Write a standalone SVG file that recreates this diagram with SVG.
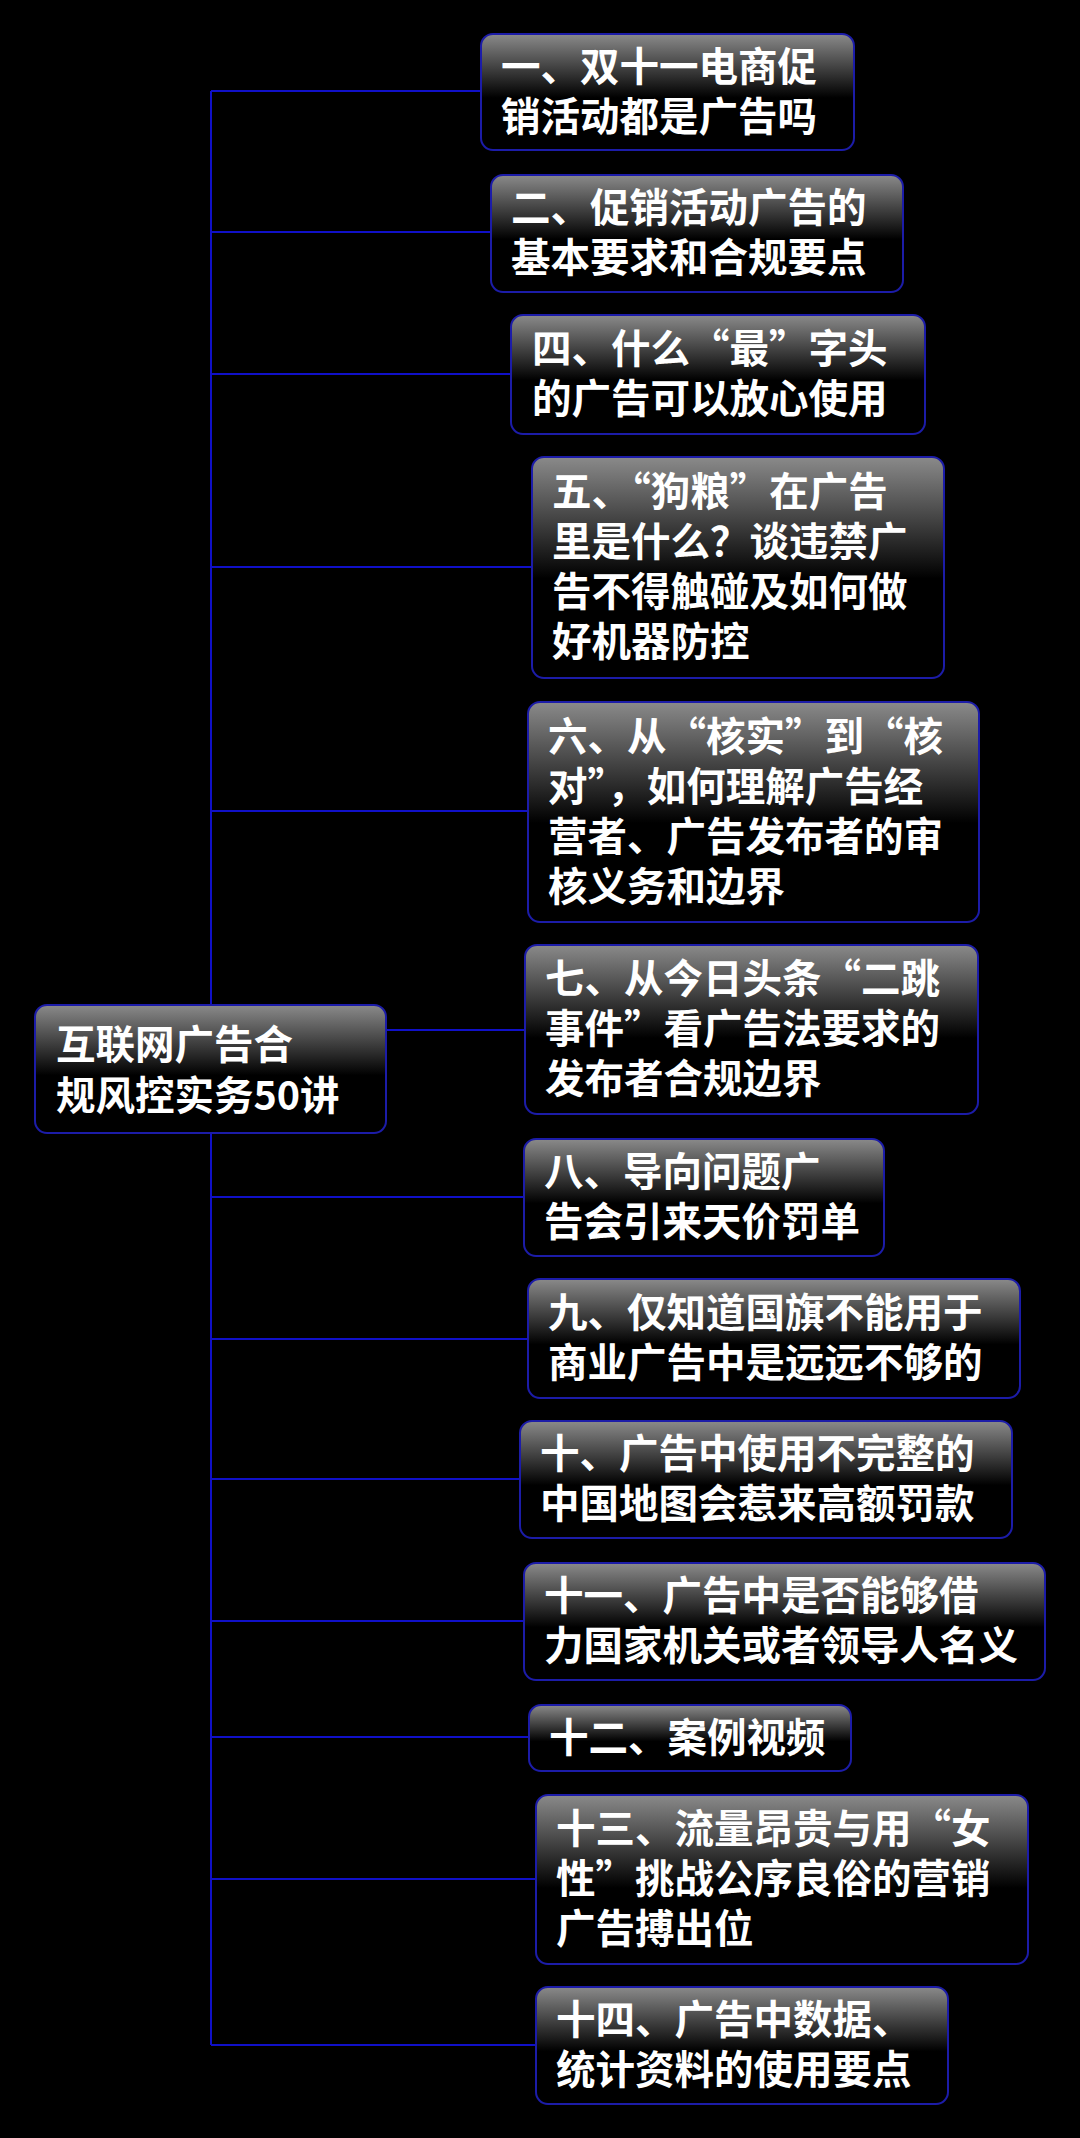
<svg xmlns="http://www.w3.org/2000/svg" width="1080" height="2138" viewBox="0 0 1080 2138">
<defs>
<linearGradient id="g" x1="0" y1="0" x2="0" y2="1">
<stop offset="0" stop-color="#8a8a8a"/>
<stop offset="0.55" stop-color="#000"/>
<stop offset="1" stop-color="#000"/>
</linearGradient>
</defs>
<style>
.b{fill:url(#g);stroke:#1c1ca8;stroke-width:2}
.t{fill:#fff;font-family:"Noto Sans CJK SC","Noto Sans",sans-serif;font-weight:bold;font-size:39.5px}
.c{stroke:#1010c8;stroke-width:2;fill:none}
</style>
<rect width="1080" height="2138" fill="#000"/>
<g id="connectors">
<line class="c" x1="211" y1="91" x2="211" y2="2045"/>
<line class="c" x1="211" y1="91" x2="481" y2="91"/>
<line class="c" x1="211" y1="232" x2="491" y2="232"/>
<line class="c" x1="211" y1="374" x2="511" y2="374"/>
<line class="c" x1="211" y1="567" x2="532" y2="567"/>
<line class="c" x1="211" y1="811" x2="528" y2="811"/>
<line class="c" x1="386" y1="1030" x2="525" y2="1030"/>
<line class="c" x1="211" y1="1197" x2="524" y2="1197"/>
<line class="c" x1="211" y1="1339" x2="528" y2="1339"/>
<line class="c" x1="211" y1="1479" x2="520" y2="1479"/>
<line class="c" x1="211" y1="1621" x2="524" y2="1621"/>
<line class="c" x1="211" y1="1737" x2="529" y2="1737"/>
<line class="c" x1="211" y1="1879" x2="536" y2="1879"/>
<line class="c" x1="211" y1="2045" x2="536" y2="2045"/>
</g>
<g id="root"><rect class="b" x="35" y="1005" width="351" height="128" rx="12"/>
<text class="t" x="56" y="1059" font-size="43">互联网广告合</text><text class="t" x="56" y="1110" font-size="43">规风控实务50讲</text></g>
<g id="n1"><rect class="b" x="481" y="34" width="373" height="116" rx="12"/>
<text class="t" x="501" y="81">一、双十一电商促</text><text class="t" x="501" y="131">销活动都是广告吗</text></g>
<g id="n2"><rect class="b" x="491" y="175" width="412" height="117" rx="12"/>
<text class="t" x="511" y="222">二、促销活动广告的</text><text class="t" x="511" y="272">基本要求和合规要点</text></g>
<g id="n3"><rect class="b" x="511" y="315" width="414" height="119" rx="12"/>
<text class="t" x="532" y="363">四、什么“最”字头</text><text class="t" x="532" y="413">的广告可以放心使用</text></g>
<g id="n4"><rect class="b" x="532" y="457" width="412" height="221" rx="12"/>
<text class="t" x="552" y="506">五、“狗粮”在广告</text><text class="t" x="552" y="556">里是什么？谈违禁广</text><text class="t" x="552" y="606">告不得触碰及如何做</text><text class="t" x="552" y="656">好机器防控</text></g>
<g id="n5"><rect class="b" x="528" y="702" width="451" height="220" rx="12"/>
<text class="t" x="548" y="751">六、从“核实”到“核</text><text class="t" x="548" y="801">对”，如何理解广告经</text><text class="t" x="548" y="851">营者、广告发布者的审</text><text class="t" x="548" y="901">核义务和边界</text></g>
<g id="n6"><rect class="b" x="525" y="945" width="453" height="169" rx="12"/>
<text class="t" x="545" y="993">七、从今日头条“二跳</text><text class="t" x="545" y="1043">事件”看广告法要求的</text><text class="t" x="545" y="1093">发布者合规边界</text></g>
<g id="n7"><rect class="b" x="524" y="1139" width="360" height="117" rx="12"/>
<text class="t" x="544" y="1186">八、导向问题广</text><text class="t" x="544" y="1236">告会引来天价罚单</text></g>
<g id="n8"><rect class="b" x="528" y="1279" width="492" height="119" rx="12"/>
<text class="t" x="548" y="1327">九、仅知道国旗不能用于</text><text class="t" x="548" y="1377">商业广告中是远远不够的</text></g>
<g id="n9"><rect class="b" x="520" y="1421" width="492" height="117" rx="12"/>
<text class="t" x="540" y="1468">十、广告中使用不完整的</text><text class="t" x="540" y="1518">中国地图会惹来高额罚款</text></g>
<g id="n10"><rect class="b" x="524" y="1563" width="521" height="117" rx="12"/>
<text class="t" x="544" y="1610">十一、广告中是否能够借</text><text class="t" x="544" y="1660">力国家机关或者领导人名义</text></g>
<g id="n11"><rect class="b" x="529" y="1705" width="322" height="66" rx="12"/>
<text class="t" x="549" y="1752">十二、案例视频</text></g>
<g id="n12"><rect class="b" x="536" y="1795" width="492" height="169" rx="12"/>
<text class="t" x="556" y="1843">十三、流量昂贵与用“女</text><text class="t" x="556" y="1893">性”挑战公序良俗的营销</text><text class="t" x="556" y="1943">广告搏出位</text></g>
<g id="n13"><rect class="b" x="536" y="1987" width="412" height="117" rx="12"/>
<text class="t" x="556" y="2034">十四、广告中数据、</text><text class="t" x="556" y="2084">统计资料的使用要点</text></g>
</svg>
